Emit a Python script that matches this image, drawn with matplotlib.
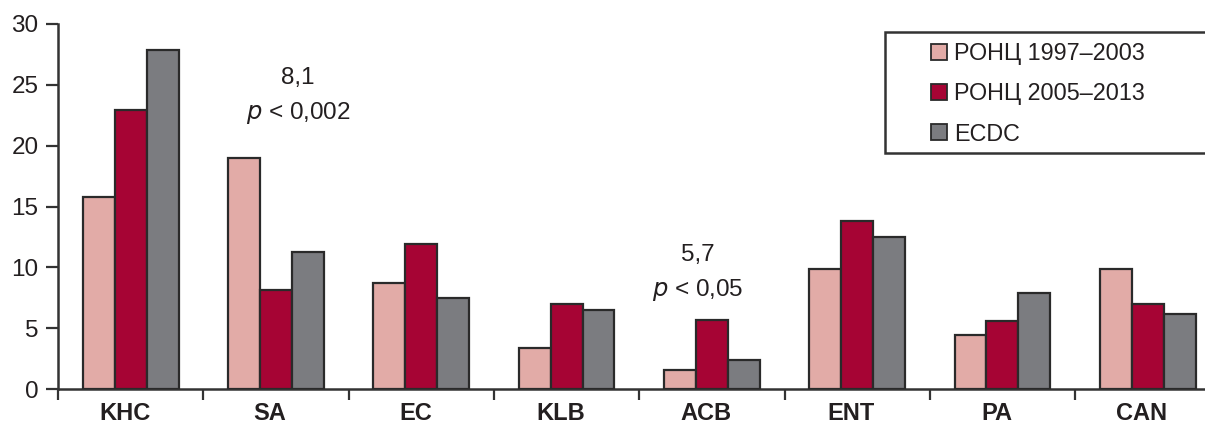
import matplotlib
matplotlib.use("Agg")
import matplotlib.pyplot as plt
from matplotlib.patches import Patch, Rectangle
import numpy as np

categories = ["KHC", "SA", "EC", "KLB", "ACB", "ENT", "PA", "CAN"]
series_names = ["РОНЦ 1997–2003", "РОНЦ 2005–2013", "ECDC"]
ronc_1997 = [15.8, 19.0, 8.7, 3.4, 1.6, 9.9, 4.4, 9.9]
ronc_2005 = [22.9, 8.1, 11.9, 7.0, 5.7, 13.8, 5.6, 7.0]
ecdc = [27.9, 11.3, 7.5, 6.5, 2.4, 12.5, 7.9, 6.2]
yticks = [0, 5, 10, 15, 20, 25, 30]
colors = ["#E2ABA7", "#A60434", "#7B7C80"]

fam = ["Liberation Sans", "DejaVu Sans"]
plt.rcParams["font.family"] = fam
TXT = "#231F20"

W, H = 1205, 425
fig = plt.figure(figsize=(W / 100, H / 100), dpi=100)
ax = fig.add_axes([58 / W, (H - 389) / H, 1 - 58 / W, (389 - 24) / H])

x = np.arange(len(categories))
bw = 0.22
for i, (vals, c) in enumerate(zip([ronc_1997, ronc_2005, ecdc], colors)):
    ax.bar(x + (i - 1) * bw, vals, width=bw, color=c, edgecolor="#2a2a2a",
           linewidth=1.6, zorder=3)

ax.set_ylim(0, 30)
ax.set_xlim(-0.5, -0.5 + (W - 58) / 145.3)
ax.set_yticks(yticks)
ax.set_yticklabels([str(v) for v in yticks], fontsize=17.5, color=TXT)
ax.tick_params(axis="y", direction="out", length=9, width=1.6, pad=5, colors="#333333",
               labelcolor=TXT)

# category boundary ticks
ax.set_xticks(np.arange(len(categories)) - 0.5)
ax.set_xticklabels([])
ax.set_xticks(x - 0.04, minor=True)
ax.set_xticklabels(categories, minor=True, fontsize=17, fontweight="bold", color=TXT)
ax.tick_params(axis="x", which="major", direction="out", length=8, width=1.6, colors="#333333")
ax.tick_params(axis="x", which="minor", length=0, pad=9)

for s in ["top", "right"]:
    ax.spines[s].set_visible(False)
for s in ["left", "bottom"]:
    ax.spines[s].set_linewidth(1.8)
    ax.spines[s].set_color("#333333")

ax.text(1.152, 25.55, "8,1", ha="center", va="center", fontsize=17.5, color=TXT)
ax.text(1.152, 22.7, r"$\it{p}$ < 0,002", ha="center", va="center", fontsize=17.5, color=TXT)
ax.text(3.90, 11.0, "5,7", ha="center", va="center", fontsize=17.5, color=TXT)
ax.text(3.90, 8.1, r"$\it{p}$ < 0,05", ha="center", va="center", fontsize=17.5, color=TXT)

# legend frame (extends past right edge like the reference)
fig.patches.append(Rectangle((885 / W, (H - 153) / H), 340 / W, 121 / H,
                             transform=fig.transFigure, facecolor="white",
                             edgecolor="#333333", linewidth=1.8, zorder=5))
handles = [Patch(facecolor=c, edgecolor="#2a2a2a", linewidth=1.3) for c in colors]
leg = fig.legend(handles, series_names, loc="upper left",
                 bbox_to_anchor=(931 / W, (H - 42) / H),
                 fontsize=16.8, frameon=False, handlelength=0.68,
                 handleheight=0.68, handletextpad=0.3, labelspacing=0.74,
                 borderpad=0, borderaxespad=0)
leg.set_zorder(6)
for t in leg.get_texts():
    t.set_color(TXT)

fig.savefig("out.png", dpi=100)
